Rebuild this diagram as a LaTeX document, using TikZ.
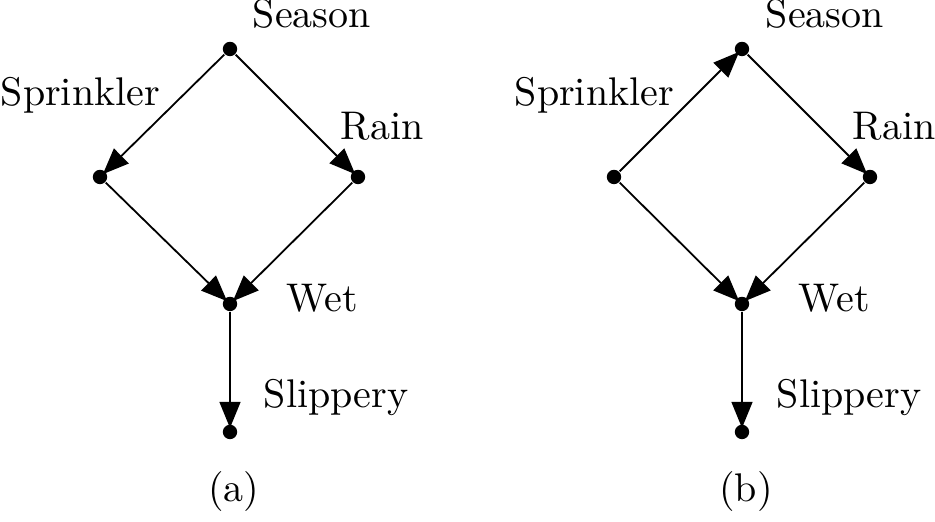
\documentclass[tikz,border=0pt]{standalone}
\usetikzlibrary{arrows.meta}
\begin{document}
\begin{tikzpicture}[x=0.25pt,y=-0.25pt,
  dot/.style={circle,fill=black,inner sep=0pt,minimum size=3.6pt},
  lbl/.style={anchor=base west,inner sep=0pt},
  arr/.style={-{Triangle[length=6.5pt,width=5.2pt]},line width=0.45pt,shorten >=-1pt},
  ln/.style={line width=0.45pt}]
\useasboundingbox (0,0) rectangle (935,522);
% (a)
\node[dot] (sa) at (230,49) {};
\node[dot] (spa) at (100,177) {};
\node[dot] (ra) at (358,177) {};
\node[dot] (wa) at (230,304) {};
\node[dot] (sla) at (230,432) {};
\node[lbl] (lsa) at (252,28) {Season};
\node[lbl] (lspa) at (0,106) {Sprinkler};
\node[lbl] (lra) at (340,140) {Rain};
\node[lbl] (lwa) at (286,312) {Wet};
\node[lbl] (lsla) at (263,408) {Slippery};
\node[anchor=base,inner sep=0pt] (capa) at (234,502) {(a)};
\draw[arr] (sa) -- (spa);
\draw[arr] (sa) -- (ra);
\draw[arr] (spa) -- (wa);
\draw[arr] (ra) -- (wa);
\draw[arr] (wa) -- (sla);
% (b)
\node[dot] (sb) at (742,49) {};
\node[dot] (spb) at (614,177) {};
\node[dot] (rb) at (870,177) {};
\node[dot] (wb) at (742,304) {};
\node[dot] (slb) at (742,432) {};
\node[lbl] (lsb) at (765,28) {Season};
\node[lbl] (lspb) at (514,106) {Sprinkler};
\node[lbl] (lrb) at (852,140) {Rain};
\node[lbl] (lwb) at (798,312) {Wet};
\node[lbl] (lslb) at (776,408) {Slippery};
\node[anchor=base,inner sep=0pt] (capb) at (746,502) {(b)};
\draw[arr] (spb) -- (sb);
\draw[arr] (sb) -- (rb);
\draw[arr] (spb) -- (wb);
\draw[arr] (rb) -- (wb);
\draw[arr] (wb) -- (slb);
\end{tikzpicture}
\end{document}
